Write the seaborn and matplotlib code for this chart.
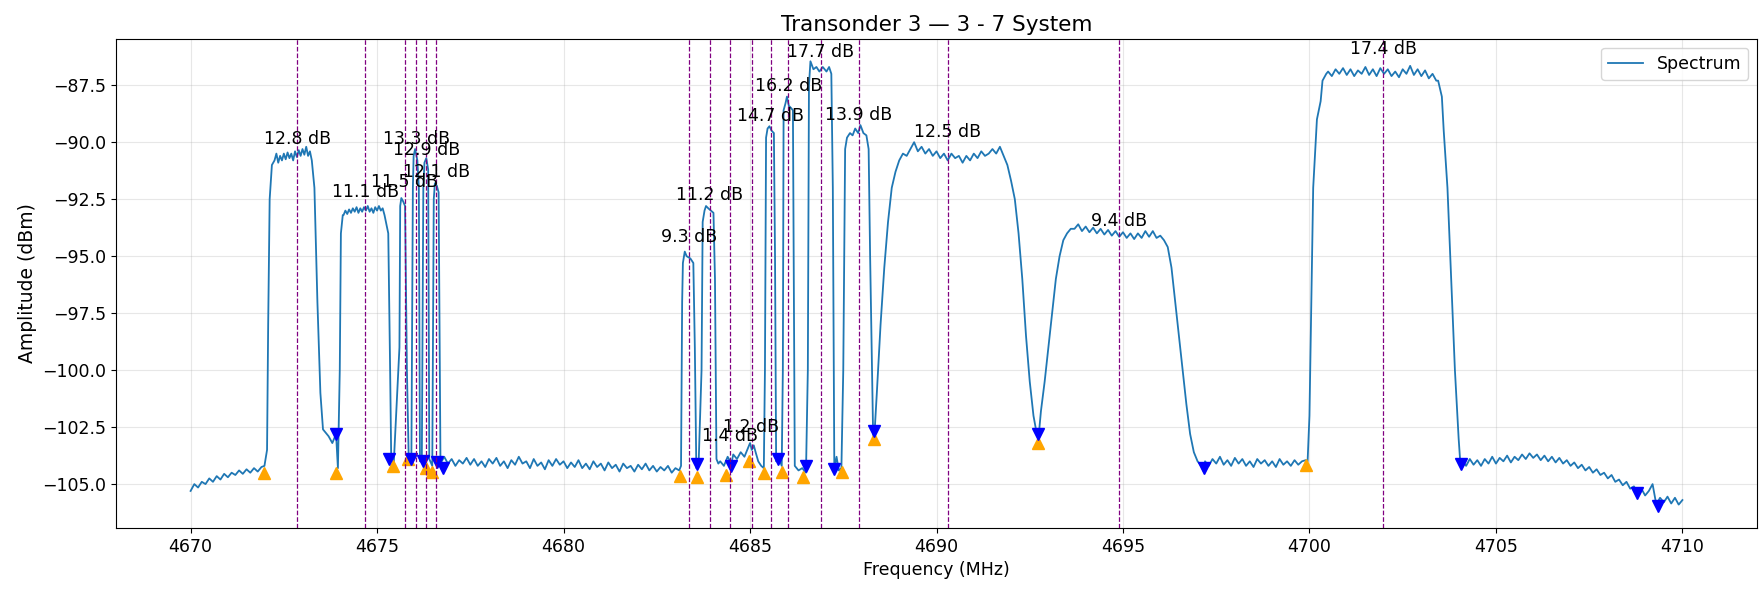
import numpy as np
import pandas as pd
import seaborn as sns
import matplotlib
matplotlib.use("Agg")
import matplotlib.pyplot as plt

# ---- spectrum trace (MHz, dBm) ----
floor_a_mhz = [4670.0, 4670.1, 4670.2, 4670.3, 4670.4, 4670.5, 4670.6, 4670.7, 4670.8, 4670.9,
               4671.0, 4671.1, 4671.2, 4671.3, 4671.4, 4671.5, 4671.6, 4671.7, 4671.8, 4671.9, 4671.98]
floor_a_dbm = [-105.3, -105.0, -105.15, -104.9, -105.0, -104.75, -104.9, -104.65, -104.8, -104.55,
               -104.7, -104.5, -104.6, -104.4, -104.55, -104.35, -104.5, -104.3, -104.45, -104.25, -104.2]

# carriers 1 and 2 plus the four narrow ones
group1_mhz = [4672.05, 4672.08, 4672.12, 4672.18,
              4672.25, 4672.3, 4672.35, 4672.4, 4672.45, 4672.5, 4672.55, 4672.6, 4672.65, 4672.7,
              4672.75, 4672.8, 4672.85, 4672.9, 4672.95, 4673.0, 4673.05, 4673.1, 4673.15, 4673.2,
              4673.25, 4673.32, 4673.4, 4673.48, 4673.55, 4673.7, 4673.8, 4673.9, 4673.95,
              4674.0, 4674.03, 4674.08,
              4674.1, 4674.15, 4674.2, 4674.25, 4674.3, 4674.35, 4674.4, 4674.45, 4674.5, 4674.55,
              4674.6, 4674.65, 4674.7, 4674.75, 4674.8, 4674.85, 4674.9, 4674.95, 4675.0, 4675.05,
              4675.1, 4675.15, 4675.2, 4675.25, 4675.3, 4675.35, 4675.38,
              4675.45, 4675.6, 4675.62, 4675.65, 4675.7, 4675.75, 4675.8, 4675.85,
              4675.92, 4675.96, 4675.98, 4676.02, 4676.08, 4676.12, 4676.15,
              4676.2, 4676.24, 4676.27, 4676.32, 4676.37, 4676.4,
              4676.48, 4676.52, 4676.55, 4676.6, 4676.65, 4676.7]
group1_dbm = [-103.5, -98.0, -92.5, -91.0,
              -90.8, -90.5, -90.9, -90.6, -90.8, -90.5, -90.75, -90.45, -90.7, -90.5,
              -90.8, -90.4, -90.65, -90.35, -90.6, -90.3, -90.55, -90.2, -90.6, -90.4,
              -90.8, -92.0, -97.0, -101.0, -102.6, -102.9, -103.2, -102.8, -104.3,
              -100.0, -94.0, -93.2,
              -93.2, -93.0, -93.15, -92.95, -93.1, -92.9, -93.05, -92.85, -93.1, -92.9,
              -93.05, -92.85, -93.0, -92.8, -93.05, -92.9, -93.1, -92.85, -93.0, -92.8,
              -93.0, -92.9, -93.2, -93.6, -94.0, -100.0, -104.0,
              -104.0, -99.0, -92.8, -92.45, -92.6, -92.8, -100.0, -104.0,
              -103.9, -92.0, -90.6, -90.3, -90.8, -92.0, -104.0,
              -104.0, -92.0, -90.9, -90.7, -91.2, -103.9,
              -104.2, -92.5, -91.8, -91.9, -92.2, -104.1]

floor_b_mhz = [4676.8, 4676.9, 4677.0, 4677.1, 4677.2, 4677.3, 4677.4, 4677.5, 4677.6, 4677.7,
               4677.8, 4677.9, 4678.0, 4678.1, 4678.2, 4678.3, 4678.4, 4678.5, 4678.6, 4678.7,
               4678.8, 4678.9, 4679.0, 4679.1, 4679.2, 4679.3, 4679.4, 4679.5, 4679.6, 4679.7,
               4679.8, 4679.9, 4680.0, 4680.1, 4680.2, 4680.3, 4680.4, 4680.5, 4680.6, 4680.7,
               4680.8, 4680.9, 4681.0, 4681.1, 4681.2, 4681.3, 4681.4, 4681.5, 4681.6, 4681.7,
               4681.8, 4681.9, 4682.0, 4682.1, 4682.2, 4682.3, 4682.4, 4682.5, 4682.6, 4682.7,
               4682.8, 4682.9, 4683.0, 4683.1]
floor_b_dbm = [-103.8, -104.1, -103.9, -104.2, -103.95, -104.1, -103.85, -104.15, -103.9, -104.2,
               -104.0, -104.25, -103.9, -104.1, -103.85, -104.2, -104.0, -104.3, -103.95, -104.15,
               -103.8, -104.1, -104.0, -104.3, -103.9, -104.2, -104.05, -104.35, -103.95, -104.2,
               -103.9, -104.15, -104.0, -104.3, -104.05, -104.25, -103.95, -104.3, -104.1, -104.35,
               -104.0, -104.25, -104.1, -104.4, -104.05, -104.3, -104.15, -104.45, -104.1, -104.3,
               -104.2, -104.45, -104.15, -104.35, -104.1, -104.4, -104.2, -104.45, -104.25, -104.4,
               -104.2, -104.5, -104.3, -104.4]

# narrow carriers around 4683-4688 MHz
group2_mhz = [4683.15, 4683.18, 4683.2, 4683.25, 4683.3, 4683.4, 4683.48, 4683.52, 4683.56, 4683.62,
              4683.7, 4683.73, 4683.78, 4683.82, 4683.88, 4683.95, 4684.02, 4684.06, 4684.1, 4684.15,
              4684.2, 4684.3, 4684.4, 4684.5, 4684.55, 4684.65, 4684.75, 4684.85, 4684.95, 4685.0,
              4685.05, 4685.1, 4685.15, 4685.22, 4685.3, 4685.37,
              4685.4, 4685.43, 4685.47, 4685.52, 4685.58, 4685.64, 4685.67, 4685.7, 4685.78, 4685.85,
              4685.88, 4685.9, 4685.95, 4685.99, 4686.04, 4686.1, 4686.15, 4686.17, 4686.2, 4686.3,
              4686.4, 4686.5,
              4686.55, 4686.58, 4686.62, 4686.7, 4686.78, 4686.86, 4686.95, 4687.05, 4687.12, 4687.18,
              4687.22, 4687.26, 4687.32, 4687.38, 4687.45,
              4687.5, 4687.55, 4687.6, 4687.68, 4687.75, 4687.82, 4687.9, 4687.96, 4688.04, 4688.12,
              4688.18, 4688.22, 4688.3, 4688.33]
group2_dbm = [-104.2, -97.0, -95.3, -94.8, -95.0, -95.1, -95.3, -99.0, -104.3, -104.2,
              -100.0, -93.5, -93.0, -92.8, -92.9, -93.0, -93.1, -96.0, -103.9, -104.1,
              -104.0, -104.2, -103.8, -104.1, -103.7, -103.9, -103.6, -103.8, -103.4, -103.2,
              -103.5, -103.3, -103.6, -104.0, -104.2, -104.3,
              -100.0, -89.8, -89.4, -89.3, -89.5, -89.6, -95.0, -104.0, -103.9, -104.2,
              -100.0, -88.6, -88.3, -88.0, -88.4, -88.5, -88.6, -95.0, -104.2, -104.4,
              -104.3, -104.5,
              -100.0, -87.5, -86.45, -86.8, -86.7, -86.9, -86.7, -86.9, -86.7, -87.0,
              -92.0, -104.3, -103.8, -104.4, -104.3,
              -100.0, -90.3, -89.8, -89.6, -89.7, -89.4, -89.6, -89.25, -89.6, -89.7,
              -90.3, -95.0, -102.8, -103.0]

# wide carriers 12.5 dB and 9.4 dB
group3_mhz = [4688.4, 4688.5, 4688.6, 4688.7, 4688.8, 4688.9,
              4689.0, 4689.1, 4689.2, 4689.3, 4689.4, 4689.5, 4689.6, 4689.7, 4689.8, 4689.9,
              4690.0, 4690.1, 4690.2, 4690.3, 4690.4, 4690.5, 4690.6, 4690.7, 4690.8, 4690.9,
              4691.0, 4691.1, 4691.2, 4691.3, 4691.4, 4691.5, 4691.6, 4691.7, 4691.8,
              4691.9, 4692.0, 4692.1, 4692.2, 4692.3, 4692.4, 4692.5, 4692.6, 4692.7, 4692.75,
              4692.8, 4692.9, 4693.0, 4693.1, 4693.2, 4693.3, 4693.4, 4693.5, 4693.6,
              4693.7, 4693.8, 4693.9, 4694.0, 4694.1, 4694.2, 4694.3, 4694.4, 4694.5, 4694.6,
              4694.7, 4694.8, 4694.9, 4695.0, 4695.1, 4695.2, 4695.3, 4695.4, 4695.5, 4695.6,
              4695.7, 4695.8, 4695.9, 4696.0, 4696.1,
              4696.2, 4696.3, 4696.4, 4696.5, 4696.6, 4696.7, 4696.8, 4696.9, 4697.0, 4697.1, 4697.18]
group3_dbm = [-101.0, -98.0, -95.5, -93.5, -92.0, -91.3,
              -90.8, -90.5, -90.6, -90.3, -90.0, -90.4, -90.2, -90.5, -90.3, -90.6,
              -90.4, -90.7, -90.5, -90.8, -90.5, -90.7, -90.6, -90.9, -90.6, -90.8,
              -90.5, -90.7, -90.4, -90.6, -90.5, -90.3, -90.5, -90.2, -90.6,
              -91.0, -91.7, -92.5, -94.0, -96.0, -98.5, -100.5, -102.0, -102.9, -102.7,
              -101.8, -100.5, -99.0, -97.5, -96.0, -95.0, -94.3, -94.0, -93.8,
              -93.8, -93.6, -93.9, -93.7, -93.95, -93.75, -94.0, -93.8, -94.05, -93.85,
              -94.1, -93.9, -94.15, -93.95, -94.2, -94.0, -94.25, -94.0, -94.2, -93.9,
              -94.15, -93.9, -94.2, -94.1, -94.3,
              -94.6, -95.5, -97.0, -98.5, -100.0, -101.5, -102.8, -103.6, -104.0, -104.2, -104.5]

floor_c_mhz = [4697.2, 4697.3, 4697.4, 4697.5, 4697.6, 4697.7, 4697.8, 4697.9, 4698.0, 4698.1,
               4698.2, 4698.3, 4698.4, 4698.5, 4698.6, 4698.7, 4698.8, 4698.9, 4699.0, 4699.1,
               4699.2, 4699.3, 4699.4, 4699.5, 4699.6, 4699.7, 4699.8, 4699.9, 4699.95]
floor_c_dbm = [-104.0, -104.2, -103.9, -104.1, -103.8, -104.15, -103.95, -104.2, -103.85, -104.1,
               -103.9, -104.2, -104.0, -104.25, -103.9, -104.1, -103.95, -104.2, -104.0, -104.25,
               -103.9, -104.15, -104.0, -104.2, -103.95, -104.15, -104.0, -103.95, -104.0]

# 17.4 dB carrier
group4_mhz = [4700.0, 4700.05, 4700.1, 4700.2, 4700.3, 4700.35, 4700.45,
              4700.5, 4700.6, 4700.7, 4700.8, 4700.9, 4701.0, 4701.1, 4701.2, 4701.3, 4701.4,
              4701.5, 4701.6, 4701.7, 4701.8, 4701.9, 4702.0, 4702.1, 4702.2, 4702.3, 4702.4,
              4702.5, 4702.6, 4702.7, 4702.8, 4702.9, 4703.0, 4703.1, 4703.2, 4703.3, 4703.4,
              4703.45, 4703.55, 4703.6, 4703.7, 4703.8, 4703.9, 4704.0, 4704.05]
group4_dbm = [-102.0, -97.0, -92.0, -89.0, -88.2, -87.3, -87.0,
              -86.9, -87.1, -86.8, -87.0, -86.75, -87.05, -86.8, -87.1, -86.85, -87.0,
              -86.7, -87.05, -86.8, -87.1, -86.75, -87.0, -86.8, -87.1, -86.9, -87.15,
              -86.8, -87.0, -86.65, -87.05, -86.8, -87.1, -86.85, -87.2, -87.0, -87.3,
              -87.3, -88.0, -89.5, -92.0, -96.0, -100.0, -103.0, -104.2]

floor_d_mhz = [4704.1, 4704.2, 4704.3, 4704.4, 4704.5, 4704.6, 4704.7, 4704.8, 4704.9, 4705.0,
               4705.1, 4705.2, 4705.3, 4705.4, 4705.5, 4705.6, 4705.7, 4705.8, 4705.9, 4706.0,
               4706.1, 4706.2, 4706.3, 4706.4, 4706.5, 4706.6, 4706.7, 4706.8, 4706.9, 4707.0,
               4707.1, 4707.2, 4707.3, 4707.4, 4707.5, 4707.6, 4707.7, 4707.8, 4707.9, 4708.0,
               4708.1, 4708.2, 4708.3, 4708.4, 4708.5, 4708.6, 4708.7, 4708.8, 4708.9, 4709.0,
               4709.1, 4709.2, 4709.3, 4709.4, 4709.5, 4709.6, 4709.7, 4709.8, 4709.9, 4710.0]
floor_d_dbm = [-104.0, -104.2, -103.9, -104.15, -103.95, -104.2, -103.9, -104.1, -103.8, -104.1,
               -103.85, -104.0, -103.75, -104.05, -103.8, -103.95, -103.7, -103.9, -103.65, -103.85,
               -103.7, -103.95, -103.75, -104.0, -103.8, -104.05, -103.85, -104.1, -103.95, -104.2,
               -104.05, -104.3, -104.15, -104.4, -104.25, -104.5, -104.35, -104.6, -104.5, -104.75,
               -104.6, -104.9, -104.8, -105.05, -104.9, -105.2, -105.1, -105.4, -105.2, -105.5,
               -105.3, -105.0, -105.9, -105.6, -105.8, -105.55, -105.85, -105.6, -105.9, -105.7]

# ---- detected carriers ----
carrier_center_mhz = [4672.86, 4674.68, 4675.74, 4676.05, 4676.32, 4676.59,
                      4683.37, 4683.92, 4684.47, 4685.04, 4685.56, 4686.03, 4686.89, 4687.92,
                      4690.30, 4694.90, 4701.98]
carrier_snr_db = [12.8, 11.1, 11.5, 13.3, 12.9, 12.1,
                  9.3, 11.2, 1.4, 1.2, 14.7, 16.2, 17.7, 13.9,
                  12.5, 9.4, 17.4]
carrier_peak_dbm = [-90.25, -92.6, -92.15, -90.25, -90.75, -91.7,
                    -94.55, -92.7, -103.3, -102.9, -89.25, -87.95, -86.45, -89.2,
                    -89.95, -93.85, -86.3]

# carrier edges: rising (orange) and falling (blue)
rise_mhz = [4671.98, 4673.90, 4675.42, 4675.82, 4676.31, 4676.48,
            4683.12, 4683.59, 4684.36, 4684.96, 4685.38, 4685.86, 4686.43, 4687.46,
            4688.33, 4692.71, 4699.92]
rise_dbm = [-104.5, -104.5, -104.2, -103.9, -104.3, -104.45,
            -104.65, -104.7, -104.6, -104.0, -104.5, -104.45, -104.7, -104.45,
            -103.0, -103.2, -104.15]
fall_mhz = [4673.90, 4675.33, 4675.91, 4676.22, 4676.60, 4676.76,
            4683.59, 4684.49, 4685.74, 4686.50, 4687.26, 4688.33,
            4692.71, 4697.18, 4704.05, 4708.79, 4709.35]
fall_dbm = [-102.8, -103.9, -103.9, -104.0, -104.05, -104.3,
            -104.1, -104.2, -103.9, -104.2, -104.35, -102.65,
            -102.8, -104.3, -104.1, -105.4, -105.95]

freq = (floor_a_mhz + group1_mhz + floor_b_mhz + group2_mhz + group3_mhz
        + floor_c_mhz + group4_mhz + floor_d_mhz)
level = (floor_a_dbm + group1_dbm + floor_b_dbm + group2_dbm + group3_dbm
         + floor_c_dbm + group4_dbm + floor_d_dbm)
spec = pd.DataFrame({"Frequency (MHz)": freq, "Amplitude (dBm)": level})

fig = plt.figure(figsize=(17.63, 6.01), dpi=100)
ax = fig.add_axes([0.0658, 0.1215, 0.9308, 0.8135])

sns.lineplot(data=spec, x="Frequency (MHz)", y="Amplitude (dBm)", ax=ax,
             estimator=None, sort=False, color="#1f77b4", linewidth=1.3, label="Spectrum")

# edge markers
ax.plot(rise_mhz, rise_dbm, linestyle="none", marker="^", color="orange", markersize=9)
ax.plot(fall_mhz, fall_dbm, linestyle="none", marker="v", color="blue", markersize=9)

# carrier centres and SNR labels
for fc, snr, pk in zip(carrier_center_mhz, carrier_snr_db, carrier_peak_dbm):
    ax.axvline(fc, color="purple", linestyle="--", linewidth=0.9)
    ax.text(fc, pk, f"{snr:.1f} dB", ha="center", va="bottom", fontsize=12.5)

ax.set_title("Transonder 3 — 3 - 7 System", fontsize=15.5)
ax.set_xlabel("Frequency (MHz)", fontsize=12.5)
ax.set_ylabel("Amplitude (dBm)", fontsize=13.5)
ax.tick_params(labelsize=12.5)
ax.grid(True, alpha=0.3)
ax.legend(loc="upper right", fontsize=12.5)

fig.savefig("out.png", dpi=100)
